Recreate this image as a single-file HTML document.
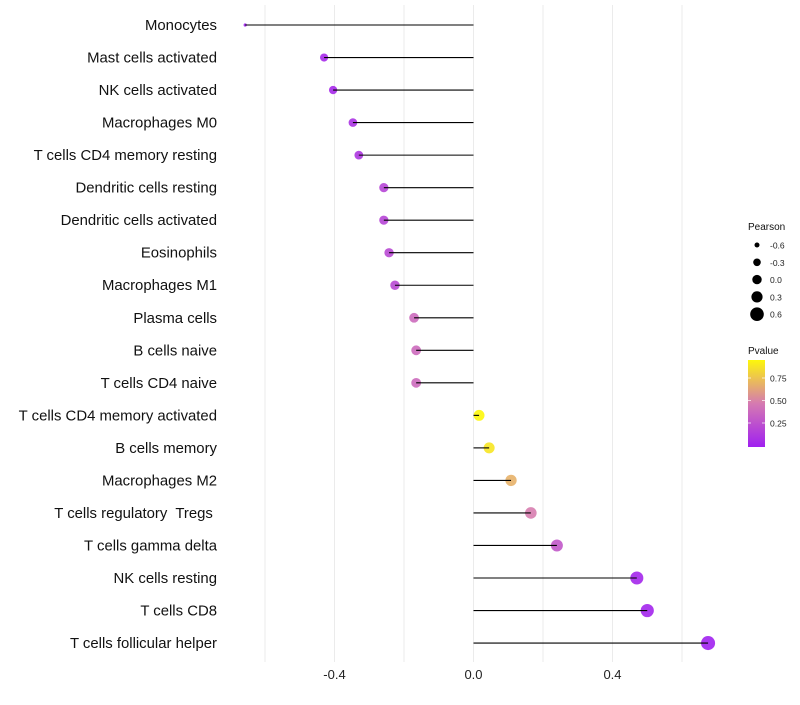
<!DOCTYPE html>
<html><head><meta charset="utf-8"><style>
body{margin:0;background:#fff;font-family:"Liberation Sans",sans-serif}
text{white-space:pre}
</style></head><body>
<svg id="c" width="800" height="700" xmlns="http://www.w3.org/2000/svg"></svg>
<script>
const categories=["Monocytes","Mast cells activated","NK cells activated","Macrophages M0","T cells CD4 memory resting","Dendritic cells resting","Dendritic cells activated","Eosinophils","Macrophages M1","Plasma cells","B cells naive","T cells CD4 naive","T cells CD4 memory activated","B cells memory","Macrophages M2","T cells regulatory  Tregs ","T cells gamma delta","NK cells resting","T cells CD8","T cells follicular helper"];
const pearson=[-0.657,-0.43,-0.404,-0.347,-0.33,-0.258,-0.258,-0.243,-0.226,-0.171,-0.165,-0.165,0.016,0.045,0.108,0.165,0.24,0.47,0.50,0.675];
const pvalues=[0.01,0.05,0.05,0.1,0.12,0.2,0.2,0.22,0.22,0.4,0.4,0.4,0.97,0.9,0.7,0.5,0.3,0.04,0.03,0.01];
const xTicks=[-0.4,0.0,0.4];
const sizeLegend=[-0.6,-0.3,0.0,0.3,0.6];
const colorTicks=[0.25,0.5,0.75];
const NS="http://www.w3.org/2000/svg",svg=document.getElementById('c');
const x=v=>473.5+v*347.5, y=i=>25+i*32.53;
const r=v=>v<-0.55?1.6:5.4+v*(v<0?3.1:2.4);
function col(p){const a=[[160,32,240],[215,125,175],[255,255,0]];let t=Math.max(0,Math.min(1,p))*2,i=t<1?0:1;t-=i;const c=a[i].map((v,k)=>Math.round(v+(a[i+1][k]-v)*t));return `rgb(${c})`;}
function el(t,at,txt){const e=document.createElementNS(NS,t);for(const k in at)e.setAttribute(k,at[k]);if(txt!=null)e.textContent=txt;svg.appendChild(e);return e;}
[-0.6,-0.4,-0.2,0,0.2,0.4,0.6].forEach(v=>{const g=el('line',{x1:x(v),x2:x(v),y1:5,y2:662,stroke:'#ebebeb','stroke-width':1});

});
xTicks.forEach(v=>{const t=el('text',{x:x(v),y:679,'font-size':13,'text-anchor':'middle',fill:'#222'},v.toFixed(1));

});
categories.forEach((c,i)=>{
const t=el('text',{x:217,y:y(i)+5,'font-size':14.9,'text-anchor':'end',fill:'#111'},c);


const p=el('circle',{cx:x(pearson[i]),cy:y(i),r:r(pearson[i]),fill:col(pvalues[i]),'fill-opacity':0.9});


const l=el('line',{x1:x(0),x2:x(pearson[i]),y1:y(i),y2:y(i),stroke:'#000','stroke-width':1.1});


});
const lt=el('text',{x:748,y:230,'font-size':10,fill:'#111'},'Pearson');


const lr=[2.5,3.8,4.7,5.6,6.8];
sizeLegend.forEach((v,i)=>{const cy=245+i*17.3;
const c=el('circle',{cx:757,cy:cy,r:lr[i],fill:'#000'});


const t=el('text',{x:770,y:cy+3.5,'font-size':8.5,fill:'#222'},v.toFixed(1));

});
const pt=el('text',{x:748,y:354,'font-size':10,fill:'#111'},'Pvalue');


const defs=el('defs',{});const lg=document.createElementNS(NS,'linearGradient');lg.setAttribute('id','g');lg.setAttribute('x1',0);lg.setAttribute('y1',1);lg.setAttribute('x2',0);lg.setAttribute('y2',0);defs.appendChild(lg);
[0,0.5,1].forEach(o=>{const s=document.createElementNS(NS,'stop');s.setAttribute('offset',o);s.setAttribute('stop-color',col(o*0.97));lg.appendChild(s);});
const cb=el('rect',{x:748,y:360,width:17,height:87,fill:'url(#g)'});


const cy=v=>445.5-v*90;
colorTicks.forEach(v=>{
const t=el('text',{x:770,y:cy(v)+3.5,'font-size':8.5,fill:'#222'},v.toFixed(2));


el('line',{x1:748,x2:751,y1:cy(v),y2:cy(v),stroke:'#fff','stroke-width':0.7});
el('line',{x1:762,x2:765,y1:cy(v),y2:cy(v),stroke:'#fff','stroke-width':0.7});});
</script>
</body></html>
